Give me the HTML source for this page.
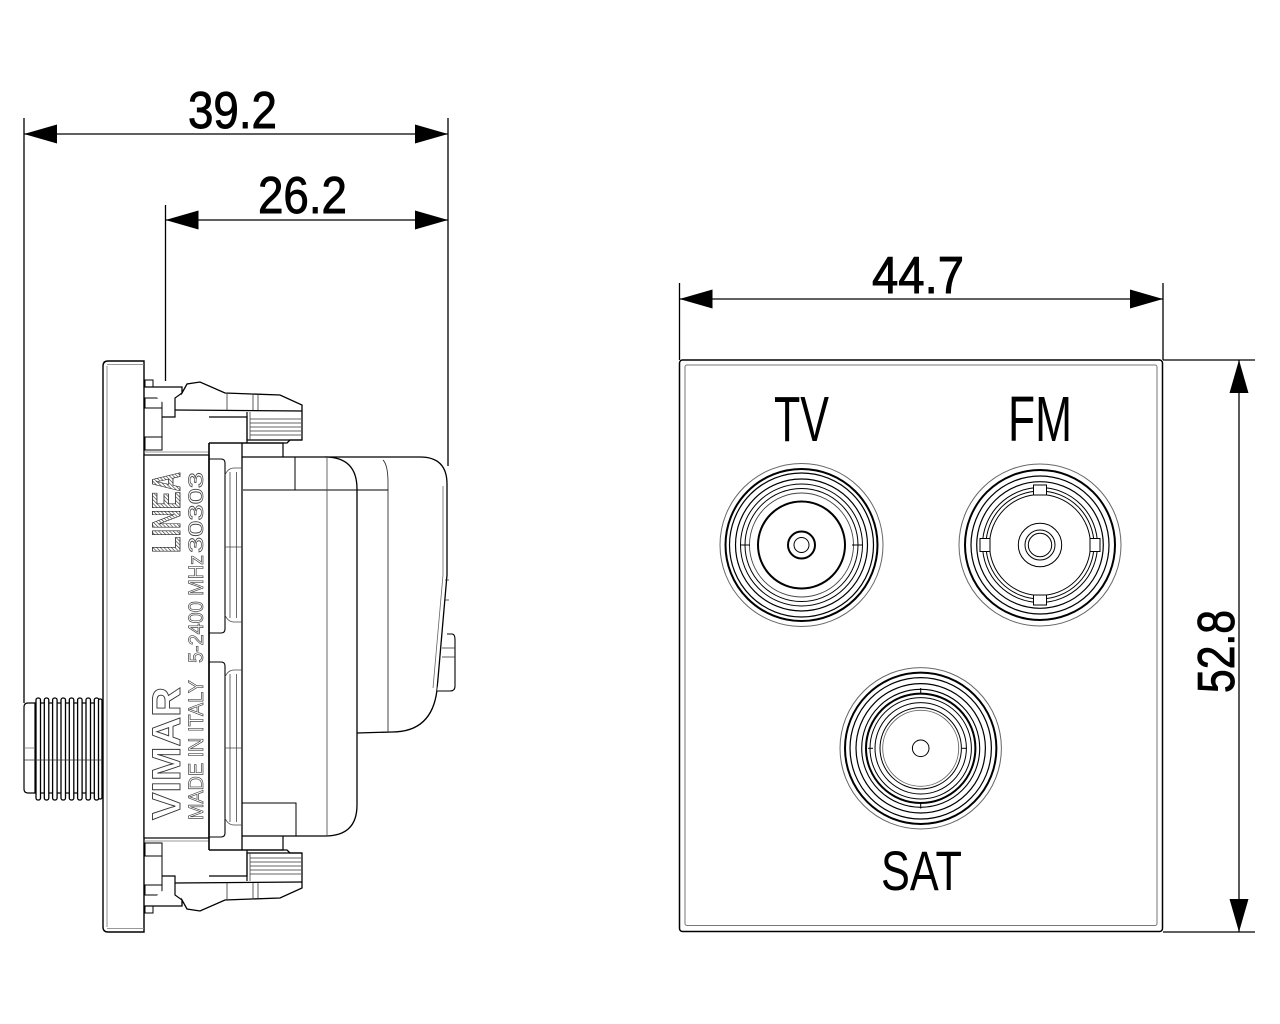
<!DOCTYPE html>
<html><head><meta charset="utf-8"><style>
html,body{margin:0;padding:0;background:#fff;}
svg{display:block;}
text{font-family:"Liberation Sans",sans-serif;}
</style></head><body>
<svg width="1280" height="1024" viewBox="0 0 1280 1024" xmlns="http://www.w3.org/2000/svg">
<defs>
<pattern id="hatch" width="2.6" height="2.6" patternUnits="userSpaceOnUse" patternTransform="rotate(45)">
<rect width="2.6" height="2.6" fill="#fff"/><line x1="0" y1="0" x2="0" y2="2.6" stroke="#333" stroke-width="1.2"/>
</pattern>
<g id="clip">
<rect x="145" y="380" width="8" height="7" fill="#fff" stroke="#000" stroke-width="1"/>
<rect x="145" y="398" width="17" height="10" fill="#fff" stroke="#000" stroke-width="1"/>
<rect x="145" y="437" width="17" height="13" fill="#fff" stroke="#000" stroke-width="1"/>
<line x1="162" y1="398" x2="162" y2="450" stroke="#000" stroke-width="1"/>
<path d="M145,387 L182,387 L182,393 L187,384 L200,382 L225,393 L280,395 L302,405 L302,440 L290,440 L287,443 L209,443" fill="#fff" stroke="#000" stroke-width="1.3"/>
<path d="M182,393 L175,398 L175,417 L162,417" fill="none" stroke="#000" stroke-width="1.2"/>
<path d="M175,410 L302,411" fill="none" stroke="#000" stroke-width="1.2"/>
<path d="M209,417 L247,417 L247,443" fill="none" stroke="#000" stroke-width="1.2"/>
<path d="M247,412 L247,440 L302,440" fill="none" stroke="#000" stroke-width="1.2"/>
<line x1="250" y1="412" x2="250" y2="440" stroke="#444" stroke-width="0.8"/>
<g stroke="#333" stroke-width="0.8">
<line x1="250" y1="419" x2="301" y2="419"/><line x1="250" y1="423" x2="301" y2="423"/>
<line x1="250" y1="427" x2="301" y2="427"/><line x1="250" y1="431" x2="301" y2="431"/>
<line x1="250" y1="435" x2="301" y2="435"/>
<line x1="227" y1="393" x2="227" y2="410"/><line x1="253" y1="394" x2="253" y2="410"/>
<line x1="258" y1="394" x2="258" y2="410"/>
</g>
<path d="M209,443 L283,443 L283,457" fill="none" stroke="#000" stroke-width="1.2"/>
<line x1="144" y1="452" x2="209" y2="452" stroke="#777" stroke-width="0.8"/>
</g>
</defs>

<!-- ===== Dimensions side view ===== -->
<g stroke="#000" stroke-width="1.3" fill="none">
<line x1="24" y1="118" x2="24" y2="703"/>
<line x1="448" y1="118" x2="448" y2="466"/>
<line x1="165.5" y1="205" x2="165.5" y2="381"/>
<line x1="24" y1="134" x2="448" y2="134"/>
<line x1="165.5" y1="220" x2="448" y2="220"/>
</g>
<g fill="#000">
<polygon points="24,134 57,124.5 57,143.5"/>
<polygon points="448,134 415,124.5 415,143.5"/>
<polygon points="165.5,220 198.5,210.5 198.5,229.5"/>
<polygon points="448,220 415,210.5 415,229.5"/>
</g>
<text x="188" y="128" font-size="52" textLength="89" lengthAdjust="spacingAndGlyphs" fill="#000" stroke="#000" stroke-width="0.9">39.2</text>
<text x="258" y="213" font-size="52" textLength="89" lengthAdjust="spacingAndGlyphs" fill="#000" stroke="#000" stroke-width="0.9">26.2</text>

<!-- ===== Side view ===== -->
<!-- F connector -->
<path d="M35,703 L28,703 Q24,703 24,707 L24,789 Q24,793 28,793 L35,793" fill="#fff" stroke="#000" stroke-width="1.2"/>
<rect x="35" y="703" width="67" height="90" fill="#fff" stroke="#000" stroke-width="1.2"/>
<g fill="#fff" stroke="#000" stroke-width="1.3">
<rect x="36" y="698" width="4.5" height="102" rx="2"/>
<rect x="44.3" y="698" width="4.5" height="102" rx="2"/>
<rect x="52.6" y="698" width="4.5" height="102" rx="2"/>
<rect x="61" y="698" width="4.5" height="102" rx="2"/>
<rect x="69.3" y="698" width="4.5" height="102" rx="2"/>
<rect x="77.6" y="698" width="4.5" height="102" rx="2"/>
<rect x="86" y="698" width="4.5" height="102" rx="2"/>
<rect x="94.3" y="698" width="4.5" height="102" rx="2"/>
<rect x="98.5" y="699" width="3.5" height="100" rx="1.5"/>
</g>
<line x1="24" y1="760" x2="103" y2="760" stroke="#333" stroke-width="0.8"/>
<line x1="24" y1="748" x2="35" y2="748" stroke="#777" stroke-width="0.8"/>

<!-- plate -->
<path d="M144,361 L108,361 Q103,361 103,366 L103,927 Q103,932 108,932 L144,932 Z" fill="#fff" stroke="#000" stroke-width="1.4"/>
<line x1="107" y1="366" x2="107" y2="927" stroke="#777" stroke-width="0.8"/>
<line x1="107" y1="364.5" x2="144" y2="364.5" stroke="#777" stroke-width="0.8"/>
<line x1="107" y1="928.5" x2="144" y2="928.5" stroke="#777" stroke-width="0.8"/>

<!-- clips -->
<use href="#clip"/>
<use href="#clip" transform="translate(0,1293) scale(1,-1)"/>

<!-- label body -->
<rect x="144" y="455" width="65" height="383" fill="#fff" stroke="#000" stroke-width="1.2"/>

<!-- cap -->
<path d="M325,457 L420,457 Q447,457 447,484 L447,575 L437,690 Q432,732 392,732 L357,733" fill="#fff" stroke="#000" stroke-width="1.3"/>
<path d="M443,486 L443,575 L433,688" fill="none" stroke="#666" stroke-width="0.8"/>
<path d="M383,460 Q388,465 388,483 L388,732" fill="none" stroke="#333" stroke-width="0.9"/>
<path d="M447,634 L452,634 Q455,634 455,640 L455,686 Q455,691 450,691 L437,691" fill="#fff" stroke="#000" stroke-width="1.1"/>
<line x1="442" y1="648" x2="455" y2="648" stroke="#333" stroke-width="0.8"/>
<line x1="442" y1="657" x2="455" y2="657" stroke="#333" stroke-width="0.8"/>
<line x1="445" y1="580" x2="449" y2="580" stroke="#333" stroke-width="0.8"/>
<line x1="445" y1="600" x2="449" y2="600" stroke="#333" stroke-width="0.8"/>

<!-- main box -->
<path d="M242,443 L242,850 M283,457 L325,457 Q357,457 357,489 L357,805 Q357,836 325,836 L242,836" fill="#fff" stroke="#000" stroke-width="1.3"/>
<path d="M242,457 L283,457" stroke="#000" stroke-width="1.2"/>
<line x1="243" y1="490" x2="388" y2="490" stroke="#000" stroke-width="1"/>
<line x1="295" y1="457" x2="295" y2="490" stroke="#000" stroke-width="1"/>
<line x1="327" y1="457" x2="327" y2="836" stroke="#444" stroke-width="0.8"/>
<path d="M242,803 L296,803 L296,836" fill="none" stroke="#000" stroke-width="1"/>

<!-- strip panel -->
<line x1="209" y1="443" x2="209" y2="850" stroke="#000" stroke-width="1.6"/>
<path d="M209,459 L221,459 Q225,459 225,463 L225,629 Q225,633 221,633 L209,633 M209,662 L221,662 Q225,662 225,666 L225,833 Q225,837 221,837 L209,837" fill="none" stroke="#000" stroke-width="1.1"/>
<g stroke="#444" stroke-width="0.8" fill="none">
<line x1="230" y1="472" x2="230" y2="618"/><line x1="236.5" y1="472" x2="236.5" y2="618"/>
<line x1="230" y1="674" x2="230" y2="822"/><line x1="236.5" y1="674" x2="236.5" y2="822"/>
<path d="M225,615 Q228,622 234,622 L242,622"/><path d="M225,677 Q228,670 234,670 L242,670"/>
<path d="M225,475 Q228,468 234,468 L242,468"/><path d="M225,818 Q228,825 234,825 L242,825"/>
<line x1="225" y1="547" x2="242" y2="547"/><line x1="225" y1="748" x2="242" y2="748"/>
</g>

<!-- label text -->
<text transform="translate(180,553) rotate(-90)" font-size="40" font-weight="bold" textLength="81" lengthAdjust="spacingAndGlyphs" fill="url(#hatch)" stroke="#222" stroke-width="0.8">LINEA</text>
<text transform="translate(180,820) rotate(-90)" font-size="40" font-weight="bold" textLength="133" lengthAdjust="spacingAndGlyphs" fill="#fff" stroke="#333" stroke-width="0.9">VIMAR</text>
<text transform="translate(203,820) rotate(-90)" font-size="21" textLength="140" lengthAdjust="spacingAndGlyphs" fill="#fff" stroke="#444" stroke-width="0.7">MADE IN ITALY</text>
<text transform="translate(203,663) rotate(-90)" font-size="21" textLength="108" lengthAdjust="spacingAndGlyphs" fill="#fff" stroke="#444" stroke-width="0.7">5-2400 MHz</text>
<text transform="translate(203,553) rotate(-90)" font-size="21" textLength="81" lengthAdjust="spacingAndGlyphs" fill="#fff" stroke="#444" stroke-width="0.7">30303</text>

<!-- ===== Front view ===== -->
<g stroke="#000" stroke-width="1.3" fill="none">
<line x1="679.5" y1="283" x2="679.5" y2="360"/>
<line x1="1163" y1="283" x2="1163" y2="360"/>
<line x1="679.5" y1="299" x2="1163" y2="299"/>
<line x1="1163" y1="360" x2="1255" y2="360"/>
<line x1="1163" y1="932" x2="1255" y2="932"/>
<line x1="1239" y1="360" x2="1239" y2="932"/>
</g>
<g fill="#000">
<polygon points="679.5,299 712.5,289.5 712.5,308.5"/>
<polygon points="1163,299 1130,289.5 1130,308.5"/>
<polygon points="1239,360 1229.5,393 1248.5,393"/>
<polygon points="1239,932 1229.5,899 1248.5,899"/>
</g>
<text x="872" y="293" font-size="52" textLength="92" lengthAdjust="spacingAndGlyphs" fill="#000" stroke="#000" stroke-width="0.9">44.7</text>
<text transform="translate(1234,693) rotate(-90)" font-size="52" textLength="83" lengthAdjust="spacingAndGlyphs" fill="#000" stroke="#000" stroke-width="0.9">52.8</text>

<rect x="679.5" y="360" width="483" height="571.5" rx="3" fill="#fff" stroke="#000" stroke-width="1.5"/>
<rect x="685" y="365" width="472" height="560.5" rx="2" fill="none" stroke="#777" stroke-width="1"/>

<text x="774" y="441" font-size="64" textLength="55" lengthAdjust="spacingAndGlyphs" fill="#000">TV</text>
<text x="1008" y="441" font-size="64" textLength="64" lengthAdjust="spacingAndGlyphs" fill="#000">FM</text>
<text x="881" y="890" font-size="56" textLength="81" lengthAdjust="spacingAndGlyphs" fill="#000">SAT</text>

<!-- TV -->
<g fill="none" stroke="#000">
<circle cx="801.5" cy="545" r="81.5" stroke="#666" stroke-width="1"/>
<circle cx="801.5" cy="545" r="76" stroke-width="2"/>
<circle cx="801.5" cy="545" r="72" stroke-width="1.2"/>
<circle cx="801.5" cy="545" r="66" stroke-width="1.2"/>
<circle cx="801.5" cy="545" r="61" stroke-width="1"/>
<circle cx="801.5" cy="545" r="56.5" stroke-width="1"/>
<circle cx="801.5" cy="545" r="52" stroke="#444" stroke-width="0.9"/>
<circle cx="801.5" cy="545" r="43.5" stroke-width="2"/>
<circle cx="801.5" cy="545" r="13.5" stroke-width="2"/>
<circle cx="801.5" cy="545" r="7.5" stroke-width="1"/>
<line x1="740.5" y1="545" x2="750" y2="545" stroke-width="1"/>
<line x1="852" y1="545" x2="862" y2="545" stroke-width="1"/>
</g>

<!-- FM -->
<g fill="none" stroke="#000">
<circle cx="1040" cy="545" r="81" stroke="#666" stroke-width="1"/>
<circle cx="1040" cy="545" r="75" stroke-width="2"/>
<circle cx="1040" cy="545" r="69" stroke-width="1.2"/>
<circle cx="1040" cy="545" r="63.3" stroke-width="1.2"/>
<circle cx="1040" cy="545" r="57.5" stroke-width="1"/>
<circle cx="1040" cy="545" r="54" stroke-width="1"/>
<circle cx="1040" cy="545" r="50.5" stroke-width="1"/>
<g fill="#fff" stroke-width="1">
<rect x="1033.5" y="485" width="13" height="10"/>
<rect x="1033.5" y="595" width="13" height="10"/>
<rect x="980" y="538.5" width="10" height="13"/>
<rect x="1090" y="538.5" width="10" height="13"/>
</g>
<circle cx="1040" cy="545" r="21.7" stroke-width="1"/>
<circle cx="1040" cy="545" r="15" stroke-width="1"/>
<circle cx="1040" cy="545" r="11.7" stroke-width="1"/>
</g>

<!-- SAT -->
<g fill="none" stroke="#000">
<circle cx="920.7" cy="748.3" r="80.7" stroke="#666" stroke-width="1"/>
<circle cx="920.7" cy="748.3" r="75.7" stroke-width="2"/>
<circle cx="920.7" cy="748.3" r="70.7" stroke-width="1.2"/>
<circle cx="920.7" cy="748.3" r="64.7" stroke-width="1.2"/>
<circle cx="920.7" cy="748.3" r="59" stroke-width="1.1"/>
<circle cx="920.7" cy="748.3" r="54.7" stroke-width="2"/>
<circle cx="920.7" cy="748.3" r="50.7" stroke-width="1"/>
<circle cx="920.7" cy="748.3" r="45.7" stroke-width="1"/>
<circle cx="920.7" cy="748.3" r="40.7" stroke-width="1"/>
<circle cx="920.7" cy="748.3" r="38" stroke="#666" stroke-width="0.9"/>
<circle cx="920.7" cy="748.3" r="8.3" stroke-width="1"/>
<line x1="920.7" y1="688" x2="920.7" y2="693.5" stroke-width="1"/>
<line x1="920.7" y1="803" x2="920.7" y2="808.5" stroke-width="1"/>
<line x1="873" y1="748.3" x2="868" y2="748.3" stroke-width="1"/>
<line x1="962" y1="748.3" x2="967" y2="748.3" stroke-width="1"/>
</g>
</svg>
</body></html>
